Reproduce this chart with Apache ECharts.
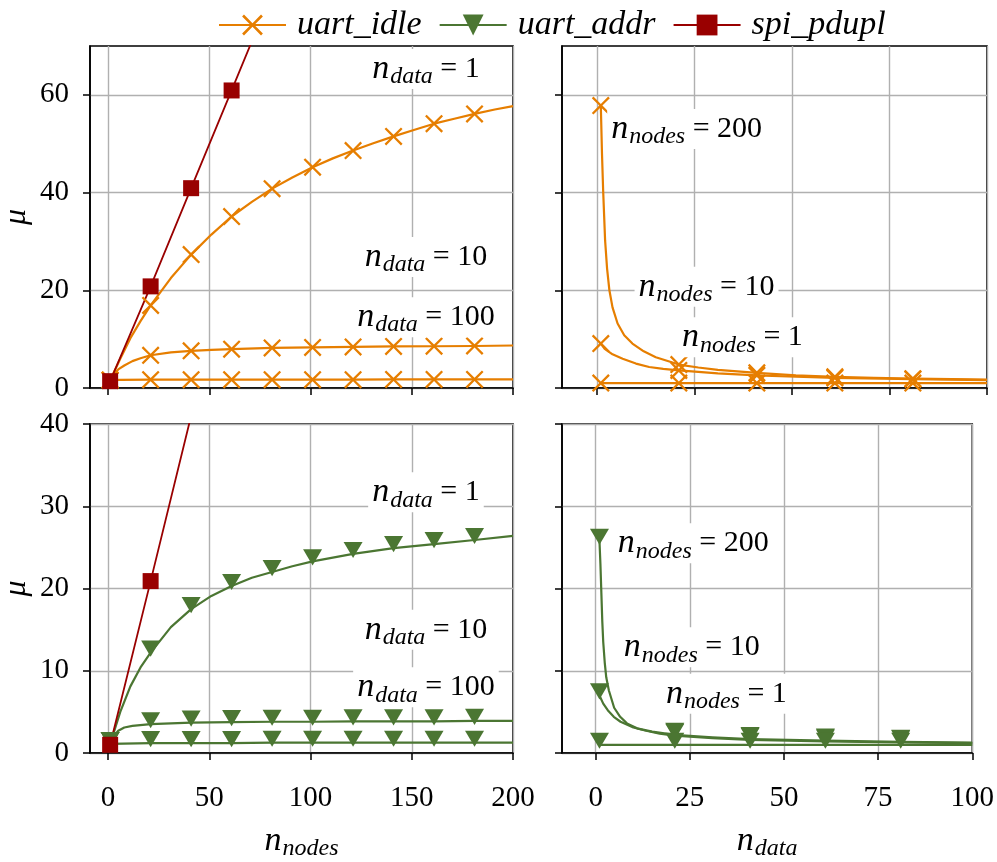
<!DOCTYPE html>
<html>
<head>
<meta charset="utf-8">
<script src="https://cdn.jsdelivr.net/npm/echarts@6/dist/echarts.min.js"></script>
<style>html,body{margin:0;background:#fff}#chart{width:997px;height:862px}</style>
</head>
<body>
<div id="chart"></div>
<script>
// values
var nodeMarks = [1, 21, 41, 61, 81, 101, 121, 141, 161, 181];
var dataMarks = [1, 21, 41, 61, 81];

// uart_idle vs n_nodes (top left)
var idleNodesX1 = [1, 6, 11, 16, 21, 31, 41, 51, 61, 71, 81, 91, 101, 111, 121, 131, 141, 151, 161, 171, 181, 191, 200];
var idleNodesY1 = [1.6, 6.0, 10.2, 13.7, 16.9, 22.5, 27.3, 31.4, 35.1, 38.1, 40.8, 43.1, 45.2, 47.0, 48.6, 50.1, 51.5, 52.8, 54.1, 55.1, 56.1, 57.0, 57.7];
var idleNodesX10 = [1, 3, 5, 8, 12, 16, 21, 31, 41, 51, 61, 81, 101, 121, 141, 161, 181, 200];
var idleNodesY10 = [1.6, 2.9, 3.8, 4.6, 5.5, 6.1, 6.7, 7.3, 7.6, 7.8, 7.95, 8.2, 8.3, 8.4, 8.5, 8.55, 8.6, 8.7];
var idleNodesX100 = [1, 6, 21, 41, 61, 81, 101, 121, 141, 161, 181, 200];
var idleNodesY100 = [1.6, 1.65, 1.7, 1.7, 1.7, 1.7, 1.7, 1.7, 1.75, 1.75, 1.75, 1.75];

// uart_addr vs n_nodes (bottom left)
var addrNodesX1 = [1, 6, 11, 16, 21, 31, 41, 51, 61, 71, 81, 91, 101, 121, 141, 161, 181, 200];
var addrNodesY1 = [1.1, 5.0, 8.1, 10.4, 12.2, 15.3, 17.5, 19.1, 20.3, 21.3, 22.0, 22.7, 23.3, 24.2, 24.9, 25.4, 25.9, 26.4];
var addrNodesX10 = [1, 3, 5, 8, 12, 21, 41, 61, 81, 101, 121, 141, 161, 181, 200];
var addrNodesY10 = [1.1, 2.1, 2.7, 3.1, 3.3, 3.5, 3.7, 3.75, 3.8, 3.8, 3.85, 3.85, 3.85, 3.9, 3.9];
var addrNodesX100 = [1, 21, 41, 61, 81, 101, 121, 141, 161, 181, 200];
var addrNodesY100 = [1.1, 1.2, 1.2, 1.2, 1.25, 1.25, 1.25, 1.25, 1.25, 1.25, 1.25];

// spi_pdupl vs n_nodes
var spiX = [1, 21, 41, 61, 81];
var spiTopY = [1.4, 20.8, 40.9, 60.9, 81];
var spiBottomY = [1.0, 20.9, 41, 61, 81];

// uart_idle vs n_data (top right)
var idleDataX200 = [1, 1.3, 1.6, 2.1, 2.6, 3.2, 4, 5.3, 7, 9.1, 12, 15.1, 21, 26, 31, 41, 51, 61, 71, 81, 91, 100];
var idleDataY200 = [57.8, 48, 40.4, 30.2, 24.5, 20.0, 16.5, 13.2, 10.8, 9.1, 7.5, 6.3, 4.8, 4.2, 3.7, 3.1, 2.6, 2.3, 2.1, 1.9, 1.8, 1.7];
var idleDataX10 = [1, 2, 4, 6.6, 10, 13.4, 17, 21, 31, 41, 51, 61, 81, 100];
var idleDataY10 = [9.1, 8.0, 6.9, 6.0, 5.0, 4.3, 3.9, 3.6, 3.0, 2.6, 2.3, 2.05, 1.8, 1.6];
var idleDataX1 = [1, 21, 41, 61, 81, 100];
var idleDataY1 = [1.0, 1.0, 1.0, 1.0, 1.0, 1.0];

// uart_addr vs n_data (bottom right)
var addrDataX200 = [1, 1.25, 1.5, 1.75, 2, 2.4, 2.8, 3.5, 4.9, 6.5, 8.3, 11, 15, 21, 31, 41, 61, 81, 100];
var addrDataY200 = [25.8, 23.0, 19.5, 16.0, 13.5, 11.0, 9.2, 7.6, 5.5, 4.4, 3.6, 3.0, 2.6, 2.2, 1.9, 1.7, 1.5, 1.35, 1.25];
var addrDataX10 = [1, 2, 3.2, 4.8, 6.6, 10, 13.4, 17, 21, 31, 41, 61, 81, 100];
var addrDataY10 = [7.0, 6.0, 5.2, 4.4, 3.8, 3.1, 2.7, 2.35, 2.1, 1.8, 1.6, 1.4, 1.3, 1.2];
var addrDataX1 = [1, 21, 41, 61, 81, 100];
var addrDataY1 = [1.0, 1.0, 1.0, 1.0, 1.0, 1.0];

// annotation anchors: [x, y, value]
var notesTopLeft = [[157, 65.3, '1'], [157, 26.8, '10'], [157, 14.5, '100']];
var notesBottomLeft = [[157, 31.7, '1'], [157, 15.0, '10'], [157, 8.0, '100']];
var notesTopRight = [[23.0, 53.0, '200'], [28.1, 20.7, '10'], [37.3, 10.4, '1']];
var notesBottomRight = [[25.9, 25.5, '200'], [25.5, 12.85, '10'], [34.7, 7.2, '1']];

var nodeTicks = [0, 50, 100, 150, 200];
var dataTicks = [0, 25, 50, 75, 100];
var topTicks = [0, 20, 40, 60];
var bottomTicks = [0, 10, 20, 30, 40];

var ORANGE = '#e67e00', GREEN = '#4b7632', RED = '#990000';
var SERIF = 'Liberation Serif';
var X_SYMBOL = 'path://M1.8,0L10,8.2L18.2,0L20,1.8L11.8,10L20,18.2L18.2,20L10,11.8L1.8,20L0,18.2L8.2,10L0,1.8Z';
var TRI_SYMBOL = 'path://M0,0L20,0L10,17Z';

var chart = echarts.init(document.getElementById('chart'));

var grids = [
    {left: 89, top: 46, width: 424, height: 342},
    {left: 562, top: 46, width: 425, height: 342},
    {left: 89, top: 424, width: 424, height: 343},
    {left: 562, top: 424, width: 425, height: 343}
];
grids.forEach(function(g) {
    g.show = true;
    g.borderColor = '#000';
    g.borderWidth = 1.6;
    g.backgroundColor = 'transparent';
});

var richMath = {
    n: {fontFamily: SERIF, fontStyle: 'italic', fontSize: 34, color: '#000'},
    s: {fontFamily: SERIF, fontStyle: 'italic', fontSize: 24, color: '#000', padding: [16, 0, 0, 1]},
    e: {fontFamily: SERIF, fontSize: 30, color: '#000'}
};

function xAxis(gi, ticks, max, showLabel, name) {
    return {
        type: 'value', gridIndex: gi, min: -8.95, max: max,
        axisLine: {show: true, onZero: false, lineStyle: {color: '#000', width: 1.6}},
        axisTick: {show: true, length: 7, customValues: ticks, lineStyle: {color: '#000', width: 1.5}},
        axisLabel: {show: showLabel, customValues: ticks, margin: 31, fontFamily: SERIF, fontSize: 29, color: '#000'},
        splitLine: {show: true, lineStyle: {color: '#b0b0b0', width: 1.4}},
        name: name, nameLocation: 'middle', nameGap: 68,
        nameTextStyle: {rich: richMath}
    };
}

function yAxis(gi, max, ticks, showLabel) {
    return {
        type: 'value', gridIndex: gi, min: 0, max: max,
        axisLine: {show: true, onZero: false, lineStyle: {color: '#000', width: 1.6}},
        axisTick: {show: true, length: 7, customValues: ticks, lineStyle: {color: '#000', width: 1.5}},
        axisLabel: {show: showLabel, customValues: ticks, margin: 21, fontFamily: SERIF, fontSize: 29, color: '#000'},
        splitLine: {show: true, lineStyle: {color: '#b0b0b0', width: 1.4}},
        name: showLabel ? 'μ' : '', nameLocation: 'middle', nameGap: 57, nameRotate: 90,
        nameTextStyle: {fontFamily: SERIF, fontStyle: 'italic', fontSize: 32, color: '#000'}
    };
}

function curve(name, color, symbol, size, offset, xs, ys, marks, gi, width) {
    var data = xs.map(function(x, i) {
        var item = {value: [x, ys[i]]};
        if (marks.indexOf(x) < 0) item.symbol = 'none';
        return item;
    });
    return {
        type: 'line', name: name, xAxisIndex: gi, yAxisIndex: gi,
        data: data, smooth: false,
        symbol: symbol, symbolSize: size, symbolOffset: offset, symbolKeepAspect: true,
        showAllSymbol: true, clip: true,
        lineStyle: {color: color, width: width, join: 'round'},
        itemStyle: {color: color, borderWidth: 0, opacity: 1},
        emphasis: {disabled: true}, z: 3
    };
}

function notes(gi, list, sub) {
    return {
        type: 'scatter', xAxisIndex: gi, yAxisIndex: gi, symbolSize: 0, z: 10,
        data: list,
        itemStyle: {opacity: 1},
        label: {
            show: true, position: 'inside', color: '#000', opacity: 1, textBorderWidth: 0,
            backgroundColor: '#fff', padding: [0, 4, 0, 4],
            formatter: function(p) { return '{n|n}{s|' + sub + '}{e| = ' + p.data[2] + '}'; },
            rich: richMath
        },
        emphasis: {disabled: true}, silent: true
    };
}

var series = [
    curve('uart_idle', ORANGE, X_SYMBOL, 18, [0, 0], idleNodesX1, idleNodesY1, nodeMarks, 0, 2.2),
    curve('uart_idle', ORANGE, X_SYMBOL, 18, [0, 0], idleNodesX10, idleNodesY10, nodeMarks, 0, 2.2),
    curve('uart_idle', ORANGE, X_SYMBOL, 18, [0, 0], idleNodesX100, idleNodesY100, nodeMarks, 0, 2.2),
    curve('spi_pdupl', RED, 'rect', 16, [0, 0], spiX, spiTopY, spiX, 0, 1.8),
    curve('uart_idle', ORANGE, X_SYMBOL, 18, [0, 0], idleDataX200, idleDataY200, dataMarks, 1, 2.2),
    curve('uart_idle', ORANGE, X_SYMBOL, 18, [0, 0], idleDataX10, idleDataY10, dataMarks, 1, 2.2),
    curve('uart_idle', ORANGE, X_SYMBOL, 18, [0, 0], idleDataX1, idleDataY1, dataMarks, 1, 2.2),
    curve('uart_addr', GREEN, TRI_SYMBOL, 19, [0, -4], addrNodesX1, addrNodesY1, nodeMarks, 2, 2.2),
    curve('uart_addr', GREEN, TRI_SYMBOL, 19, [0, -4], addrNodesX10, addrNodesY10, nodeMarks, 2, 2.2),
    curve('uart_addr', GREEN, TRI_SYMBOL, 19, [0, -4], addrNodesX100, addrNodesY100, nodeMarks, 2, 2.2),
    curve('spi_pdupl', RED, 'rect', 16, [0, 0], spiX, spiBottomY, spiX, 2, 1.8),
    curve('uart_addr', GREEN, TRI_SYMBOL, 19, [0, -4], addrDataX200, addrDataY200, dataMarks, 3, 2.2),
    curve('uart_addr', GREEN, TRI_SYMBOL, 19, [0, -4], addrDataX10, addrDataY10, dataMarks, 3, 2.2),
    curve('uart_addr', GREEN, TRI_SYMBOL, 19, [0, -4], addrDataX1, addrDataY1, dataMarks, 3, 2.2),
    notes(0, notesTopLeft, 'data'),
    notes(1, notesTopRight, 'nodes'),
    notes(2, notesBottomLeft, 'data'),
    notes(3, notesBottomRight, 'nodes')
];

var option = {
    animation: false,
    backgroundColor: '#fff',
    legend: {
        data: ['uart_idle', 'uart_addr', 'spi_pdupl'],
        top: 3, left: 213,
        itemWidth: 67, itemHeight: 26, itemGap: 17,
        textStyle: {fontFamily: SERIF, fontStyle: 'italic', fontSize: 34, color: '#000', padding: [0, 0, 0, 6]}
    },
    grid: grids,
    xAxis: [
        xAxis(0, nodeTicks, 200, false, ''),
        xAxis(1, dataTicks, 100, false, ''),
        xAxis(2, nodeTicks, 200, true, '{n|n}{s|nodes}'),
        xAxis(3, dataTicks, 100, true, '{n|n}{s|data}')
    ],
    yAxis: [
        yAxis(0, 70, topTicks, true),
        yAxis(1, 70, topTicks, false),
        yAxis(2, 40, bottomTicks, true),
        yAxis(3, 40, bottomTicks, false)
    ],
    series: series
};

chart.setOption(option);
</script>
</body>
</html>
